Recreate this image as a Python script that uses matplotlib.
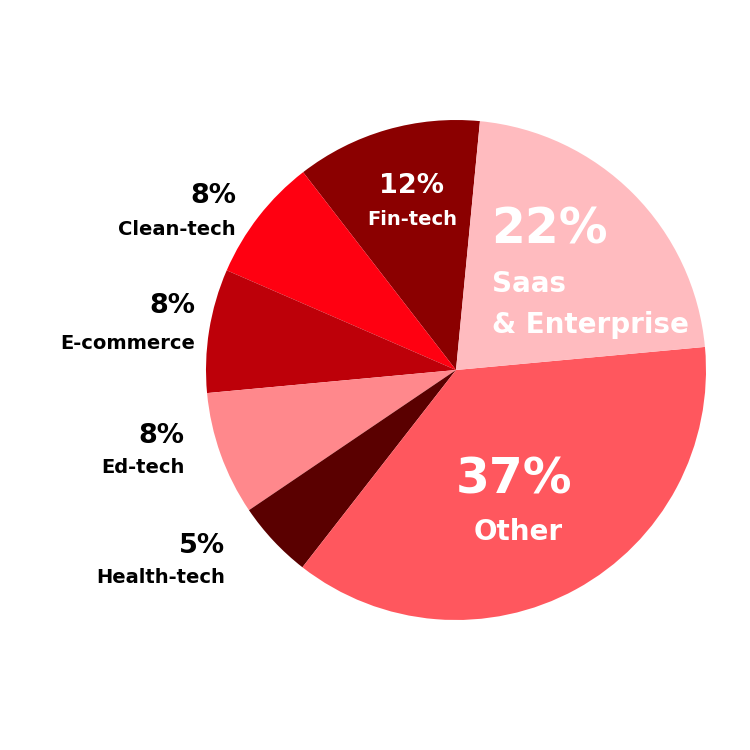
import matplotlib
matplotlib.use("Agg")
import matplotlib.pyplot as plt

categories = ["Fin-tech", "Clean-tech", "E-commerce", "Ed-tech", "Health-tech", "Other", "Saas\n& Enterprise"]
values = [12, 8, 8, 8, 5, 37, 22]
colors = ["#8B0000", "#FF0011", "#BD0009", "#FF888C", "#5A0000", "#FF575E", "#FFBBBF"]

plt.rcParams['font.family'] = ['DejaVu Sans']

fig = plt.figure(figsize=(7.5, 7.5), dpi=100)
ax = fig.add_axes([0, 0, 1, 1])
H = 750
ax.pie(values, colors=colors, startangle=84.5, counterclock=True,
       center=(456, H - 370), radius=250, frame=True,
       wedgeprops=dict(linewidth=0))
ax.set_xlim(0, 750)
ax.set_ylim(0, 750)
ax.set_aspect('equal')
ax.axis('off')

def T(x, y, s, size, color, ha):
    ax.text(x, H - y, s, fontsize=size, color=color, ha=ha, va='baseline', fontweight='bold')

# outside labels (right aligned): index, pct x, pct baseline, label x, label baseline
out = [(1, 236, 203, 236, 235), (2, 195, 313, 195, 349), (3, 184, 443, 185, 473), (4, 225, 553, 225, 583)]
for i, px, py, lx, ly in out:
    T(px, py, f"{values[i]}%", 19.5, "black", "right")
    T(lx, ly, categories[i], 14, "black", "right")

# Fin-tech
T(412, 193, f"{values[0]}%", 19.5, "white", "center")
T(412, 225, categories[0], 14, "white", "center")
# Saas
T(491, 243, f"{values[6]}%", 35, "white", "left")
T(492, 292, "Saas", 20, "white", "left")
T(492, 333, "& Enterprise", 20, "white", "left")
# Other
T(514, 493, f"{values[5]}%", 35, "white", "center")
T(518, 540, categories[5], 20, "white", "center")

fig.savefig("out.png", dpi=100)
